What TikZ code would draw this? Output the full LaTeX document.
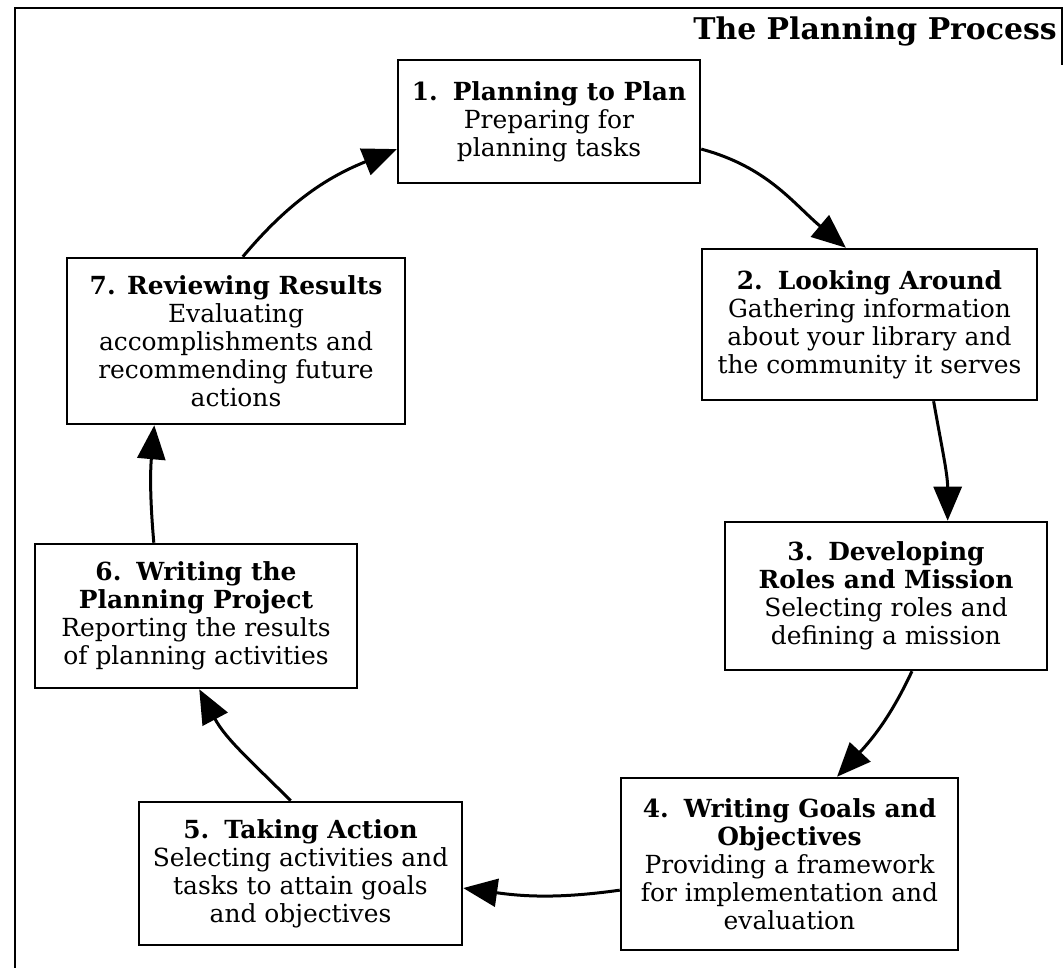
\documentclass[tikz,border=0pt]{standalone}
\usepackage{fontspec}
\setmainfont{DejaVu Serif}
\usetikzlibrary{arrows.meta,calc}
\newcommand{\nsp}{\hspace{0.6em}}
\begin{document}
\begin{tikzpicture}[x=1bp,y=1bp,
  stepbox/.style={draw, line width=2.5bp, align=center, inner sep=0pt,
    font=\fontsize{25}{28}\selectfont},
  flow/.style={line width=3bp, -{Triangle[length=34bp,width=28bp]}},
  framel/.style={line width=2.5bp}]
\useasboundingbox (0,0) rectangle (1064,968);
% frame
\coordinate (fl) at (15,0);
\coordinate (ftl) at (15,960);
\coordinate (ftr) at (1062,960);
\coordinate (fr) at (1062,903);
\draw[framel] (fl) -- (ftl) -- (ftr) -- (fr);
\node[anchor=base east, font=\fontsize{30}{34}\selectfont\bfseries, inner sep=0pt] (title) at (1057,928) {The Planning Process};
% boxes
\node[stepbox, minimum width=302bp, minimum height=123bp] (b1) at (549,846.5)
  {\textbf{1.\nsp Planning to Plan}\\Preparing for\\planning tasks};
\node[stepbox, minimum width=335bp, minimum height=151bp] (b2) at (869.5,643.5)
  {\textbf{2.\nsp Looking Around}\\Gathering information\\about your library and\\the community it serves};
\node[stepbox, minimum width=322bp, minimum height=148bp] (b3) at (886,372)
  {\textbf{3.\nsp Developing}\\\textbf{Roles and Mission}\\Selecting roles and\\defining a mission};
\node[stepbox, minimum width=337bp, minimum height=172bp] (b4) at (789.5,104)
  {\textbf{4.\nsp Writing Goals and}\\\textbf{Objectives}\\Providing a framework\\for implementation and\\evaluation};
\node[stepbox, minimum width=323bp, minimum height=143bp] (b5) at (300.5,94.5)
  {\textbf{5.\nsp Taking Action}\\Selecting activities and\\tasks to attain goals\\and objectives};
\node[stepbox, minimum width=322bp, minimum height=144bp] (b6) at (196,352)
  {\textbf{6.\nsp Writing the}\\\textbf{Planning Project}\\Reporting the results\\of planning activities};
\node[stepbox, minimum width=338bp, minimum height=166bp] (b7) at (236,627)
  {\textbf{7. Reviewing Results}\\Evaluating\\accomplishments and\\recommending future\\actions};
% connectors
\draw[flow] ($(b1.north east)!0.72!(b1.south east)$) to[out=-15,in=140] ($(b2.north west)!0.43!(b2.north east)$);
\draw[flow] ($(b2.south west)!0.69!(b2.south east)$) to[out=-80,in=90] ($(b3.north west)!0.69!(b3.north east)$);
\draw[flow] ($(b3.south west)!0.58!(b3.south east)$) to[out=-115,in=47] ($(b4.north west)!0.64!(b4.north east)$);
\draw[flow] ($(b4.north west)!0.65!(b4.south west)$) to[out=188,in=-8] ($(b5.north east)!0.6!(b5.south east)$);
\draw[flow] ($(b5.north west)!0.47!(b5.north east)$) to[out=135,in=-62] ($(b6.south west)!0.51!(b6.south east)$);
\draw[flow] ($(b6.north west)!0.37!(b6.north east)$) to[out=95,in=-95] ($(b7.south west)!0.26!(b7.south east)$);
\draw[flow] ($(b7.north west)!0.52!(b7.north east)$) to[out=50,in=202] ($(b1.north west)!0.72!(b1.south west)$);
\end{tikzpicture}
\end{document}
